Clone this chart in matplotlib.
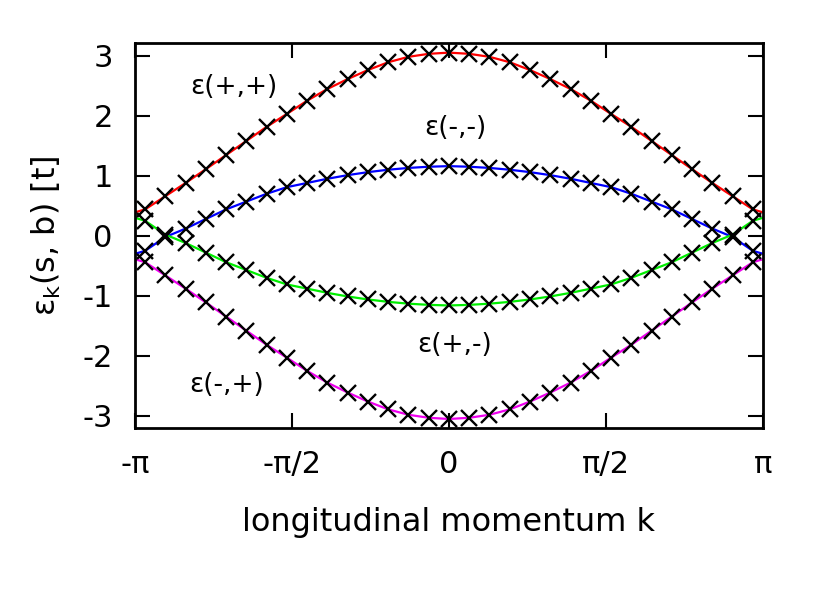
import numpy as np
import matplotlib
matplotlib.use("Agg")
import matplotlib.pyplot as plt

plt.rcParams['font.family'] = ['DejaVu Sans']
plt.rcParams['axes.unicode_minus'] = False

# momentum points of the crosses (k_n), left to right
k_pts = [-3.0402, -2.8375, -2.6348, -2.4322, -2.2295, -2.0268, -1.8241, -1.6214,
         -1.4188, -1.2161, -1.0134, -0.8107, -0.6080, -0.4054, -0.2027, 0.0,
         0.2027, 0.4054, 0.6080, 0.8107, 1.0134, 1.2161, 1.4188, 1.6214,
         1.8241, 2.0268, 2.2295, 2.4322, 2.6348, 2.8375, 3.0402]

# band energies, in units of t
eps_pp = [0.44, 0.66, 0.88, 1.11, 1.345, 1.58, 1.815, 2.03, 2.25, 2.445, 2.61,
          2.76, 2.89, 2.98, 3.03, 3.05, 3.03, 2.98, 2.89, 2.76, 2.61, 2.445,
          2.25, 2.03, 1.815, 1.58, 1.345, 1.11, 0.88, 0.66, 0.44]
eps_mm = [-0.25, -0.02, 0.12, 0.28, 0.44, 0.57, 0.70, 0.81, 0.88, 0.95, 1.01,
          1.06, 1.10, 1.13, 1.15, 1.16, 1.15, 1.13, 1.10, 1.06, 1.01, 0.95,
          0.88, 0.81, 0.70, 0.57, 0.44, 0.28, 0.12, -0.02, -0.25]
eps_pm = [0.25, 0.02, -0.12, -0.28, -0.44, -0.57, -0.70, -0.81, -0.88, -0.95, -1.01,
          -1.06, -1.10, -1.13, -1.15, -1.16, -1.15, -1.13, -1.10, -1.06, -1.01, -0.95,
          -0.88, -0.81, -0.70, -0.57, -0.44, -0.28, -0.12, 0.02, 0.25]
eps_mp = [-0.44, -0.66, -0.88, -1.11, -1.345, -1.58, -1.815, -2.03, -2.25, -2.445, -2.61,
          -2.76, -2.89, -2.98, -3.03, -3.05, -3.03, -2.98, -2.89, -2.76, -2.61, -2.445,
          -2.25, -2.03, -1.815, -1.58, -1.345, -1.11, -0.88, -0.66, -0.44]

# band values where the curves meet the frame at k = -pi and k = pi
edge_k = [-np.pi, np.pi]
edge_pp = [0.39, 0.39]
edge_mm = [-0.30, -0.30]
edge_pm = [0.30, 0.30]
edge_mp = [-0.39, -0.39]

band_colors = ['#ff0000', '#0000ff', '#00ee00', '#ee00ee']

xtick_vals = [-np.pi, -np.pi / 2, 0, np.pi / 2, np.pi]
xtick_labels = ['-π', '-π/2', '0', 'π/2', 'π']
ytick_vals = [-3, -2, -1, 0, 1, 2, 3]
ytick_labels = ['-3', '-2', '-1', '0', '1', '2', '3']


def full_line(edge, pts):
    xs = [edge_k[0]] + k_pts + [edge_k[1]]
    ys = [edge[0]] + pts + [edge[1]]
    return xs, ys


fig = plt.figure(figsize=(8.25, 5.9), dpi=100)
ax = fig.add_axes([0.1636, 0.2746, 0.9248 - 0.1636, 0.9271 - 0.2746])

bands = [(edge_pp, eps_pp), (edge_mm, eps_mm), (edge_pm, eps_pm), (edge_mp, eps_mp)]
for (edge, pts), col in zip(bands, band_colors):
    xs, ys = full_line(edge, pts)
    ax.plot(xs, ys, color=col, lw=1.6, zorder=2)
for edge, pts in bands:
    ax.plot(k_pts, pts, ls='none', marker='x', ms=11, mew=1.7, color='black', zorder=3)

lab_fs = 19
ax.text(-2.15, 2.48, 'ε(+,+)', fontsize=lab_fs, ha='center', va='center')
ax.text(0.06, 1.80, 'ε(-,-)', fontsize=lab_fs, ha='center', va='center')
ax.text(0.06, -1.82, 'ε(+,-)', fontsize=lab_fs, ha='center', va='center')
ax.text(-2.22, -2.49, 'ε(-,+)', fontsize=lab_fs, ha='center', va='center')

ax.set_xlim(-np.pi, np.pi)
ax.set_ylim(-3.2, 3.21)
ax.set_xticks(xtick_vals)
ax.set_xticklabels(xtick_labels)
ax.set_yticks(ytick_vals)
ax.set_yticklabels(ytick_labels)
ax.tick_params(direction='in', length=11, width=1.5, top=True, right=True,
               labelsize=22, pad=16)
for sp in ax.spines.values():
    sp.set_linewidth(2)

ax.set_xlabel('longitudinal momentum k', fontsize=23, labelpad=20)
ax.set_ylabel(r'ε$_\mathrm{k}$(s, b) [t]', fontsize=23, labelpad=14)

fig.savefig('out.png', dpi=100)
